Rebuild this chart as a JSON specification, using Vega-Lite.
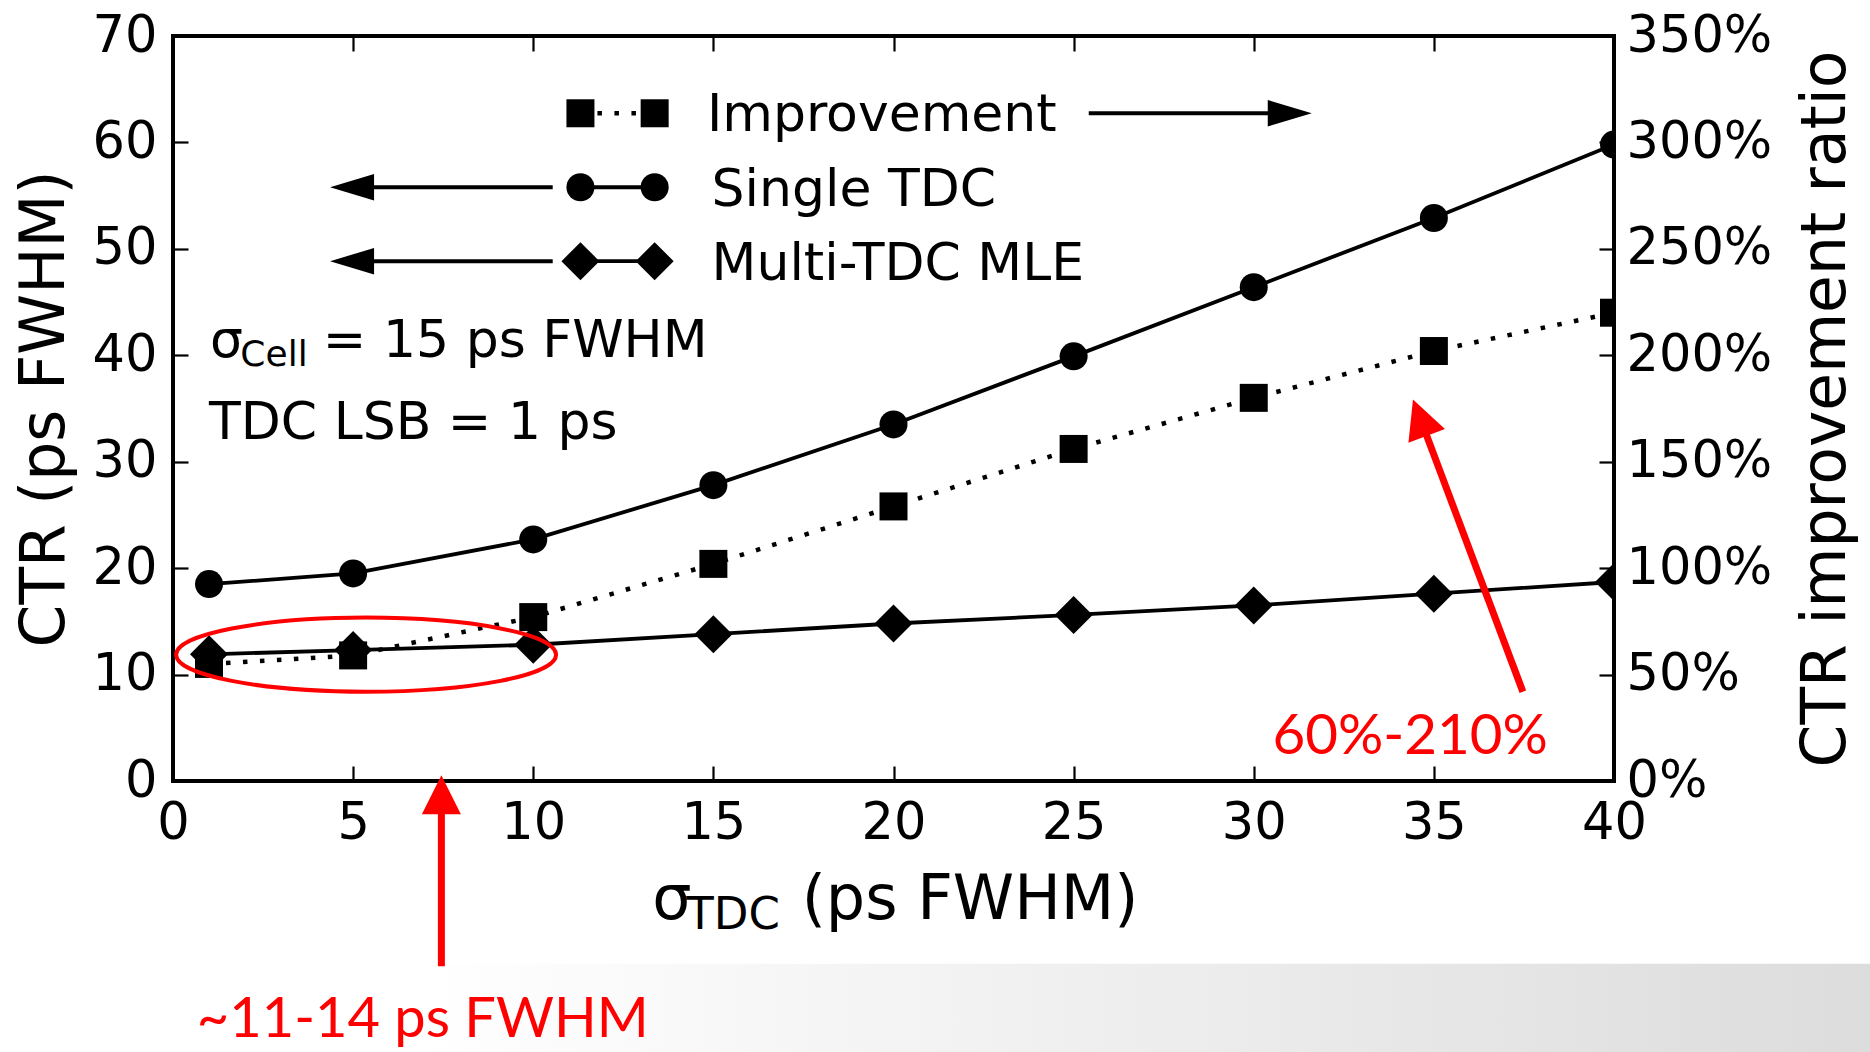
{
  "$schema": "https://vega.github.io/schema/vega-lite/v6.json",
  "width": 1441,
  "height": 745,
  "autosize": {"type": "none"},
  "padding": {"left": 173, "top": 36, "right": 256, "bottom": 271},
  "background": "white",
  "config": {
    "view": {"stroke": "#000", "strokeWidth": 4},
    "font": "DejaVu Sans",
    "axis": {
      "grid": false, "domain": false, "labelFlush": false,
      "labelFont": "DejaVu Sans", "labelFontSize": 51, "labelColor": "#000",
      "tickColor": "#000", "tickWidth": 2.2, "tickSize": -15,
      "titleFont": "DejaVu Sans", "titleFontSize": 61.5, "titleFontWeight": "normal", "titleColor": "#000",
      "labelPadding": 31
    }
  },
  "datasets": {
    "ctr": [
      {"sigma_tdc": 1, "single": 18.5, "multi": 11.9, "improvement": 0.55},
      {"sigma_tdc": 5, "single": 19.5, "multi": 12.3, "improvement": 0.59},
      {"sigma_tdc": 10, "single": 22.7, "multi": 12.8, "improvement": 0.77},
      {"sigma_tdc": 15, "single": 27.8, "multi": 13.8, "improvement": 1.02},
      {"sigma_tdc": 20, "single": 33.5, "multi": 14.8, "improvement": 1.29},
      {"sigma_tdc": 25, "single": 39.9, "multi": 15.6, "improvement": 1.56},
      {"sigma_tdc": 30, "single": 46.4, "multi": 16.5, "improvement": 1.80},
      {"sigma_tdc": 35, "single": 52.9, "multi": 17.6, "improvement": 2.02},
      {"sigma_tdc": 40, "single": 59.8, "multi": 18.7, "improvement": 2.20}
    ]
  },
  "layer": [
    {
      "layer": [
        {
          "data": {"values": [{}]},
          "mark": {"type": "rect", "color": {"gradient": "linear", "x1": 0, "y1": 0, "x2": 1, "y2": 0, "stops": [{"offset": 0, "color": "#ffffff"}, {"offset": 1, "color": "#dcdcdc"}]}},
          "encoding": {
            "x": {"datum": 6.97}, "x2": {"datum": 47.3},
            "y": {"datum": -17.16}, "y2": {"datum": -25.6}
          }
        },
        {
          "data": {"name": "ctr"},
          "mark": {"type": "line", "color": "#000", "strokeWidth": 3.8, "clip": true},
          "encoding": {
            "x": {"field": "sigma_tdc", "type": "quantitative",
                  "scale": {"domain": [0, 40], "nice": false, "zero": false},
                  "axis": {"orient": "bottom", "values": [0, 5, 10, 15, 20, 25, 30, 35, 40], "title": null, "labelPadding": 32, "labelFlush": false}},
            "y": {"field": "single", "type": "quantitative",
                  "scale": {"domain": [0, 70], "nice": false},
                  "axis": {"orient": "left", "values": [0, 10, 20, 30, 40, 50, 60, 70], "title": "CTR (ps FWHM)", "titlePadding": 16}}
          }
        },
        {
          "data": {"name": "ctr"},
          "mark": {"type": "point", "shape": "circle", "filled": true, "color": "#000", "opacity": 1, "size": 784, "clip": true},
          "encoding": {
            "x": {"field": "sigma_tdc", "type": "quantitative"},
            "y": {"field": "single", "type": "quantitative"}
          }
        },
        {
          "data": {"name": "ctr"},
          "mark": {"type": "line", "color": "#000", "strokeWidth": 3.8, "clip": true},
          "encoding": {
            "x": {"field": "sigma_tdc", "type": "quantitative"},
            "y": {"field": "multi", "type": "quantitative"}
          }
        },
        {
          "data": {"name": "ctr"},
          "mark": {"type": "point", "shape": "diamond", "filled": true, "color": "#000", "opacity": 1, "size": 1444, "clip": true},
          "encoding": {
            "x": {"field": "sigma_tdc", "type": "quantitative"},
            "y": {"field": "multi", "type": "quantitative"}
          }
        },
        {
          "data": {"values": [{}]},
          "mark": {"type": "rule", "color": "#000", "strokeWidth": 4.5, "strokeDash": [4.5, 12.5], "strokeCap": "butt"},
          "encoding": {"x": {"datum": 11.31}, "x2": {"datum": 13.37}, "y": {"datum": 62.74}}
        },
        {
          "data": {"values": [{}]},
          "mark": {"type": "point", "shape": "square", "filled": true, "color": "#000", "opacity": 1, "size": 784},
          "encoding": {"x": {"datum": 11.31}, "y": {"datum": 62.74}}
        },
        {
          "data": {"values": [{}]},
          "mark": {"type": "point", "shape": "square", "filled": true, "color": "#000", "opacity": 1, "size": 784},
          "encoding": {"x": {"datum": 13.37}, "y": {"datum": 62.74}}
        },
        {
          "data": {"values": [{}]},
          "mark": {"type": "rule", "color": "#000", "strokeWidth": 4},
          "encoding": {"x": {"datum": 25.42}, "x2": {"datum": 30.6}, "y": {"datum": 62.74}}
        },
        {
          "data": {"values": [{}]},
          "mark": {"type": "point", "shape": "M0,0L-0.3,1L0.3,1Z", "filled": true, "color": "#000", "opacity": 1, "size": 7744, "angle": 90},
          "encoding": {"x": {"datum": 31.61}, "y": {"datum": 62.74}}
        },
        {
          "data": {"values": [{}]},
          "mark": {"type": "rule", "color": "#000", "strokeWidth": 3.8},
          "encoding": {"x": {"datum": 11.31}, "x2": {"datum": 13.37}, "y": {"datum": 55.79}}
        },
        {
          "data": {"values": [{}]},
          "mark": {"type": "point", "shape": "circle", "filled": true, "color": "#000", "opacity": 1, "size": 784},
          "encoding": {"x": {"datum": 11.31}, "y": {"datum": 55.79}}
        },
        {
          "data": {"values": [{}]},
          "mark": {"type": "point", "shape": "circle", "filled": true, "color": "#000", "opacity": 1, "size": 784},
          "encoding": {"x": {"datum": 13.37}, "y": {"datum": 55.79}}
        },
        {
          "data": {"values": [{}]},
          "mark": {"type": "rule", "color": "#000", "strokeWidth": 4},
          "encoding": {"x": {"datum": 5.4}, "x2": {"datum": 10.54}, "y": {"datum": 55.79}}
        },
        {
          "data": {"values": [{}]},
          "mark": {"type": "point", "shape": "M0,0L-0.3,1L0.3,1Z", "filled": true, "color": "#000", "opacity": 1, "size": 7744, "angle": 270},
          "encoding": {"x": {"datum": 4.36}, "y": {"datum": 55.79}}
        },
        {
          "data": {"values": [{}]},
          "mark": {"type": "rule", "color": "#000", "strokeWidth": 3.8},
          "encoding": {"x": {"datum": 11.31}, "x2": {"datum": 13.37}, "y": {"datum": 48.84}}
        },
        {
          "data": {"values": [{}]},
          "mark": {"type": "point", "shape": "diamond", "filled": true, "color": "#000", "opacity": 1, "size": 1444},
          "encoding": {"x": {"datum": 11.31}, "y": {"datum": 48.84}}
        },
        {
          "data": {"values": [{}]},
          "mark": {"type": "point", "shape": "diamond", "filled": true, "color": "#000", "opacity": 1, "size": 1444},
          "encoding": {"x": {"datum": 13.37}, "y": {"datum": 48.84}}
        },
        {
          "data": {"values": [{}]},
          "mark": {"type": "rule", "color": "#000", "strokeWidth": 4},
          "encoding": {"x": {"datum": 5.4}, "x2": {"datum": 10.54}, "y": {"datum": 48.84}}
        },
        {
          "data": {"values": [{}]},
          "mark": {"type": "point", "shape": "M0,0L-0.3,1L0.3,1Z", "filled": true, "color": "#000", "opacity": 1, "size": 7744, "angle": 270},
          "encoding": {"x": {"datum": 4.36}, "y": {"datum": 48.84}}
        },
        {
          "data": {"values": [{}]},
          "mark": {"type": "text", "text": "Improvement", "font": "DejaVu Sans", "fontSize": 52, "align": "left", "baseline": "alphabetic", "color": "#000"},
          "encoding": {"x": {"datum": 14.82}, "y": {"datum": 61.1}}
        },
        {
          "data": {"values": [{}]},
          "mark": {"type": "text", "text": "Single TDC", "font": "DejaVu Sans", "fontSize": 52, "align": "left", "baseline": "alphabetic", "color": "#000"},
          "encoding": {"x": {"datum": 14.95}, "y": {"datum": 54.05}}
        },
        {
          "data": {"values": [{}]},
          "mark": {"type": "text", "text": "Multi-TDC MLE", "font": "DejaVu Sans", "fontSize": 52, "align": "left", "baseline": "alphabetic", "color": "#000"},
          "encoding": {"x": {"datum": 14.95}, "y": {"datum": 47.05}}
        },
        {
          "data": {"values": [{}]},
          "mark": {"type": "text", "text": "σ", "font": "DejaVu Sans", "fontSize": 52, "align": "left", "baseline": "alphabetic", "color": "#000"},
          "encoding": {"x": {"datum": 1.03}, "y": {"datum": 39.8}}
        },
        {
          "data": {"values": [{}]},
          "mark": {"type": "text", "text": "Cell", "font": "DejaVu Sans", "fontSize": 36, "align": "left", "baseline": "alphabetic", "color": "#000"},
          "encoding": {"x": {"datum": 1.87}, "y": {"datum": 39.0}}
        },
        {
          "data": {"values": [{}]},
          "mark": {"type": "text", "text": "= 15 ps FWHM", "font": "DejaVu Sans", "fontSize": 52, "align": "left", "baseline": "alphabetic", "color": "#000"},
          "encoding": {"x": {"datum": 4.16}, "y": {"datum": 39.8}}
        },
        {
          "data": {"values": [{}]},
          "mark": {"type": "text", "text": "TDC LSB = 1 ps", "font": "DejaVu Sans", "fontSize": 52, "align": "left", "baseline": "alphabetic", "color": "#000"},
          "encoding": {"x": {"datum": 1.0}, "y": {"datum": 32.1}}
        },
        {
          "data": {"values": [{}]},
          "mark": {"type": "text", "text": "σ", "font": "DejaVu Sans", "fontSize": 62, "align": "left", "baseline": "alphabetic", "color": "#000"},
          "encoding": {"x": {"datum": 13.3}, "y": {"datum": -12.95}}
        },
        {
          "data": {"values": [{}]},
          "mark": {"type": "text", "text": "TDC", "font": "DejaVu Sans", "fontSize": 45, "align": "left", "baseline": "alphabetic", "color": "#000"},
          "encoding": {"x": {"datum": 14.25}, "y": {"datum": -13.9}}
        },
        {
          "data": {"values": [{}]},
          "mark": {"type": "text", "text": "(ps FWHM)", "font": "DejaVu Sans", "fontSize": 62, "align": "left", "baseline": "alphabetic", "color": "#000"},
          "encoding": {"x": {"datum": 17.45}, "y": {"datum": -12.95}}
        }
      ]
    },
    {
      "layer": [
        {
          "data": {"name": "ctr"},
          "mark": {"type": "line", "color": "#000", "strokeWidth": 4.5, "strokeDash": [4.5, 12.5], "strokeCap": "butt", "clip": true},
          "encoding": {
            "x": {"field": "sigma_tdc", "type": "quantitative",
                  "axis": {"orient": "top", "values": [0, 5, 10, 15, 20, 25, 30, 35, 40], "labels": false, "title": null}},
            "y": {"field": "improvement", "type": "quantitative",
                  "scale": {"domain": [0, 3.5], "nice": false},
                  "axis": {"orient": "right", "values": [0, 0.5, 1, 1.5, 2, 2.5, 3, 3.5], "format": ".0%", "labelPadding": 27,
                           "title": "CTR improvement ratio", "titleAngle": 270, "titleBaseline": "top", "titlePadding": 24}}
          }
        },
        {
          "data": {"name": "ctr"},
          "mark": {"type": "point", "shape": "square", "filled": true, "color": "#000", "opacity": 1, "size": 784, "clip": true},
          "encoding": {
            "x": {"field": "sigma_tdc", "type": "quantitative"},
            "y": {"field": "improvement", "type": "quantitative"}
          }
        }
      ]
    },
    {
      "layer": [
        {
          "data": {"values": [{}]},
          "mark": {"type": "point", "shape": "M-1,0C-1,-0.1077,-0.5523,-0.195,0,-0.195C0.5523,-0.195,1,-0.1077,1,0C1,0.1077,0.5523,0.195,0,0.195C-0.5523,0.195,-1,0.1077,-1,0Z", "filled": false, "stroke": "#ff0000", "strokeWidth": 4, "opacity": 1, "size": 144400},
          "encoding": {
            "x": {"datum": 5.36, "axis": null},
            "y": {"datum": 11.87, "scale": {"domain": [0, 70], "nice": false}, "axis": null}
          }
        },
        {
          "data": {"values": [{}]},
          "mark": {"type": "rule", "color": "#ff0000", "strokeWidth": 7, "strokeCap": "butt"},
          "encoding": {"x": {"datum": 7.45}, "y": {"datum": -17.4}, "y2": {"datum": -2.8}}
        },
        {
          "data": {"values": [{}]},
          "mark": {"type": "point", "shape": "M0,0L-0.5,1L0.5,1Z", "filled": true, "color": "#ff0000", "opacity": 1, "size": 6084},
          "encoding": {"x": {"datum": 7.45}, "y": {"datum": 0.55}}
        },
        {
          "data": {"values": [{}]},
          "mark": {"type": "rule", "color": "#ff0000", "strokeWidth": 7, "strokeCap": "butt"},
          "encoding": {"x": {"datum": 37.47}, "x2": {"datum": 34.75}, "y": {"datum": 8.39}, "y2": {"datum": 32.9}}
        },
        {
          "data": {"values": [{}]},
          "mark": {"type": "point", "shape": "M0,0L-0.5,1L0.5,1Z", "filled": true, "color": "#ff0000", "opacity": 1, "size": 6084, "angle": 339.4},
          "encoding": {"x": {"datum": 34.42}, "y": {"datum": 35.85}}
        },
        {
          "data": {"values": [{}]},
          "mark": {"type": "text", "text": "60%-210%", "font": "Lato", "fontSize": 56.5, "align": "left", "baseline": "alphabetic", "color": "#ff0000"},
          "encoding": {"x": {"datum": 30.52}, "y": {"datum": 2.57}}
        },
        {
          "data": {"values": [{}]},
          "mark": {"type": "text", "text": "~11-14 ps FWHM", "font": "Lato", "fontSize": 56, "align": "left", "baseline": "alphabetic", "color": "#ff0000"},
          "encoding": {"x": {"datum": 0.66}, "y": {"datum": -24.1}}
        }
      ]
    }
  ],
  "resolve": {"scale": {"y": "independent"}, "axis": {"x": "independent"}}
}
